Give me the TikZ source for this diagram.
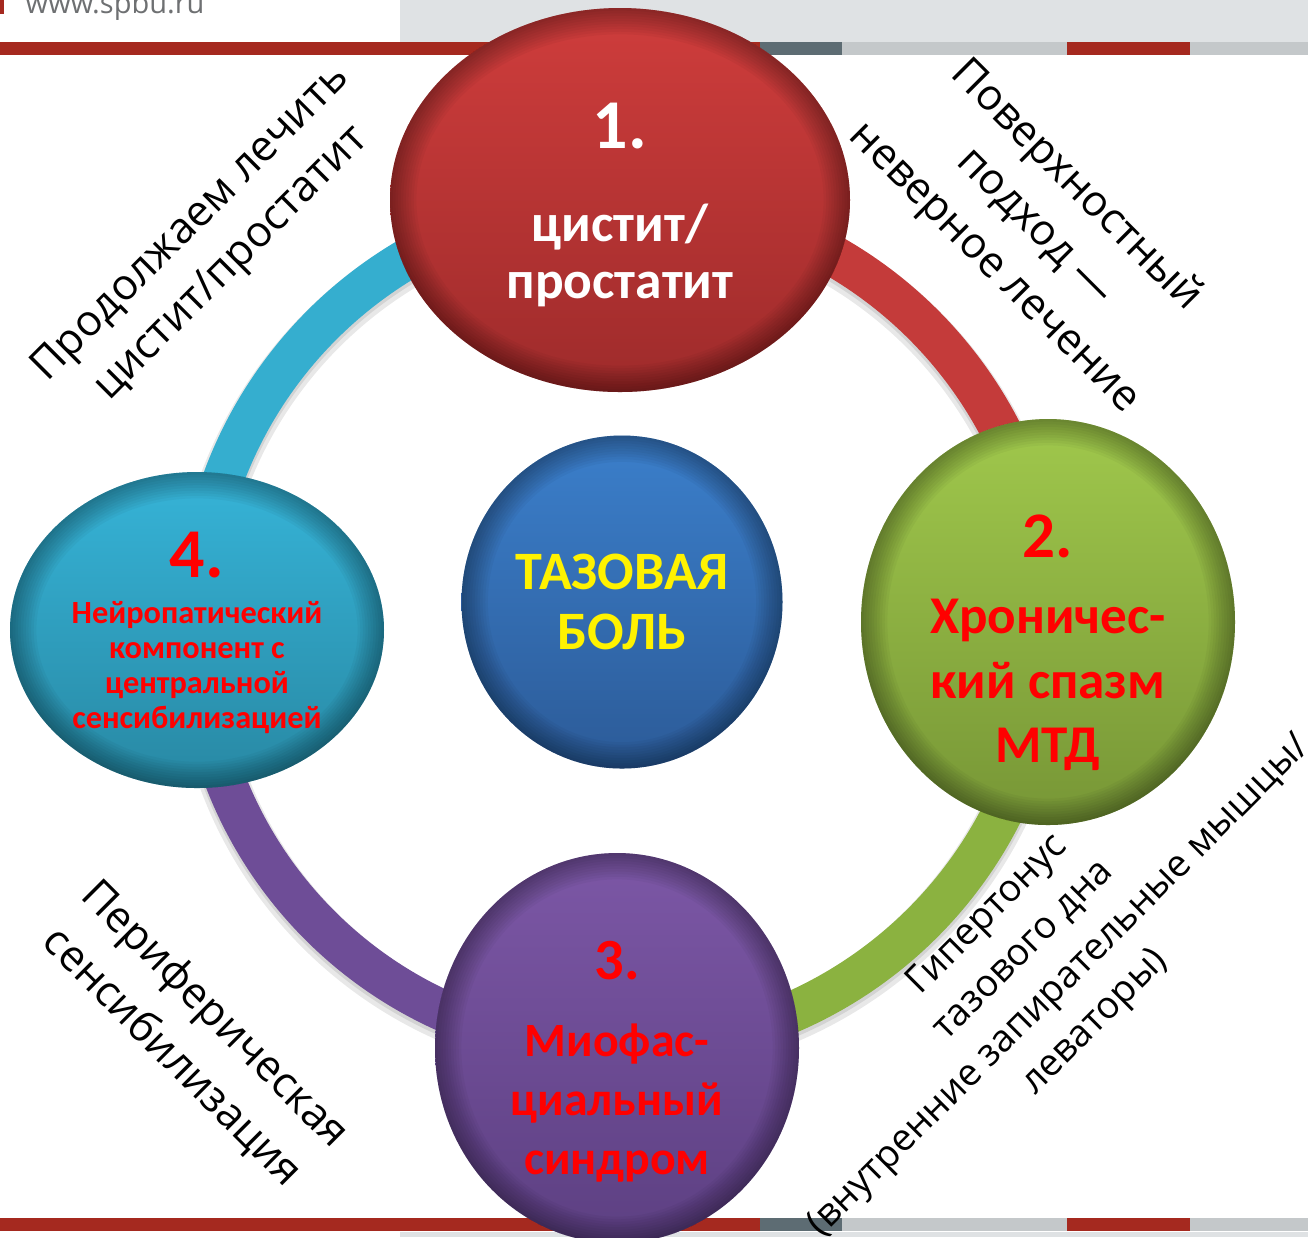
\documentclass[tikz,border=0pt]{standalone}
\usepackage{fontspec}
\newfontfamily\labelfont{Open Sans}
\newfontfamily\discfont{Carlito}
\usetikzlibrary{calc, backgrounds, shapes.geometric}
\definecolor{sbred}{RGB}{165,41,31}
\definecolor{sbslate}{RGB}{93,108,115}
\definecolor{sbgray}{RGB}{196,200,202}
\definecolor{sbhead}{RGB}{223,226,228}
\definecolor{sburl}{RGB}{110,112,114}
\definecolor{ringblue}{RGB}{53,174,207}
\definecolor{ringred}{RGB}{196,59,58}
\definecolor{ringgreen}{RGB}{139,178,64}
\definecolor{ringpurple}{RGB}{110,77,151}
\definecolor{redtop}{RGB}{207,61,60}
\definecolor{redbot}{RGB}{158,43,43}
\definecolor{bluetop}{RGB}{59,127,203}
\definecolor{bluebot}{RGB}{44,91,152}
\definecolor{greentop}{RGB}{160,200,76}
\definecolor{greenbot}{RGB}{119,150,54}
\definecolor{violettop}{RGB}{124,87,166}
\definecolor{violetbot}{RGB}{93,64,130}
\definecolor{cyantop}{RGB}{54,180,216}
\definecolor{cyanbot}{RGB}{40,136,163}
\tikzset{
  bubble/.style 2 args={ellipse, inner sep=0pt, top color=#1, bottom color=#2,
    path picture={
      \foreach \w in {1.5,3,...,15}
        \draw[black, opacity=0.035, line width=\w pt]
          let \p1=(path picture bounding box.north east),
              \p2=(path picture bounding box.center) in
          (\p2) ellipse [x radius=\x1-\x2, y radius=\y1-\y2];
    }},
  ringarc/.style={draw=#1, line width=0.41cm},
  ringshade/.style={draw=black, opacity=0.09, line width=#1},
  bubbletext/.style={align=center, text=#1, inner sep=0pt},
  sidenote/.style={font=\labelfont\fontsize{12.2}{16.2}\selectfont, align=center, text=black},
}

\begin{document}
\begin{tikzpicture}
  \useasboundingbox (0,0) rectangle (13.08,-12.37);

  \node[bubble={redtop}{redbot}, minimum width=4.60cm, minimum height=3.84cm] (c1) at (6.20,-2.00) {};
  \node[bubble={greentop}{greenbot}, minimum width=3.74cm, minimum height=4.06cm] (c2) at (10.48,-6.22) {};
  \node[bubble={violettop}{violetbot}, minimum width=3.64cm, minimum height=3.90cm] (c3) at (6.17,-10.48) {};
  \node[bubble={cyantop}{cyanbot}, minimum width=3.74cm, minimum height=3.16cm] (c4) at (1.97,-6.30) {};
  \node[bubble={bluetop}{bluebot}, minimum width=3.21cm, minimum height=3.33cm] (c0) at (6.22,-6.02) {};

  \node[bubbletext=white, font=\discfont\bfseries\fontsize{15.2}{16.2}\selectfont] (t1) at ([yshift=-0.05cm]c1)
    {{\fontsize{19.9}{20}\selectfont 1.}\\[0.36cm]цистит/\\простатит};
  \node[bubbletext=red, font=\discfont\bfseries\fontsize{15.1}{18.35}\selectfont] (t2) at ([yshift=-0.21cm]c2)
    {{\fontsize{18.5}{20}\selectfont 2.}\\[0.115cm]Хроничес-\\кий спазм\\МТД};
  \node[bubbletext=red, font=\discfont\bfseries\fontsize{13.6}{16.8}\selectfont] (t3) at ([yshift=-0.14cm]c3)
    {{\fontsize{16.6}{18}\selectfont 3.}\\[0.18cm]Миофас-\\циальный\\синдром};
  \node[bubbletext=red, font=\discfont\bfseries\fontsize{9.2}{10}\selectfont] (t4) at ([yshift=-0.03cm]c4)
    {{\fontsize{19.9}{20}\selectfont 4.}\\[0.11cm]Нейропатический\\компонент с\\центральной\\сенсибилизацией};
  \node[bubbletext=yellow, font=\discfont\bfseries\fontsize{15.4}{17.1}\selectfont] (t0) at (c0)
    {ТАЗОВАЯ\\БОЛЬ};

  \node[sidenote, rotate=45] (n41) at (2.12,-2.44) {Продолжаем лечить\\цистит/простатит};
  \node[sidenote, rotate=-45, font=\labelfont\fontsize{12.2}{16.5}\selectfont] (n12) at (10.35,-2.27)
    {Поверхностный\\подход —\\неверное лечение};
  \node[sidenote, rotate=-45, font=\labelfont\fontsize{12.2}{17.2}\selectfont] (n34) at (1.93,-10.36)
    {Периферическая\\сенсибилизация};
  \node[sidenote, rotate=45, font=\labelfont\fontsize{10.7}{14.4}\selectfont] (n23) at (10.42,-9.69)
    {Гипертонус\\тазового дна\\(внутренние запирательные мышцы/\\леваторы)};

  \node[font=\labelfont\fontsize{8.25}{10}\selectfont, text=sburl, anchor=base west, inner sep=0pt] (url)
    at (0.25,-0.13) {www.spbu.ru};

  \begin{scope}[on background layer]
    \fill[sbhead] (4.00,0) rectangle (13.08,-0.42);
    \fill[sbhead] (4.00,-12.32) rectangle (13.08,-12.37);
    \fill[sbred] (0,0) rectangle (0.04,-0.14);
    \foreach \y in {0.42,12.18}{
      \fill[sbred] (0,-\y) rectangle (7.60,-\y-0.13);
      \fill[sbslate] (7.60,-\y) rectangle (8.42,-\y-0.13);
      \fill[sbgray] (8.42,-\y) rectangle (10.67,-\y-0.13);
      \fill[sbred] (10.67,-\y) rectangle (11.90,-\y-0.13);
      \fill[sbgray] (11.90,-\y) rectangle (13.08,-\y-0.13);
    }
    \foreach \a/\b in {c4/c1, c1/c2, c2/c3, c3/c4}{
      \draw[ringshade=0.49cm] ([yshift=-0.05cm]\a.center) to[bend left=45] ([yshift=-0.05cm]\b.center);
      \draw[ringshade=0.43cm] ([yshift=-0.03cm]\a.center) to[bend left=45] ([yshift=-0.03cm]\b.center);
    }
    \foreach \a/\b/\col in {c4/c1/ringblue, c1/c2/ringred, c2/c3/ringgreen, c3/c4/ringpurple}
      \draw[ringarc=\col] (\a.center) to[bend left=45] (\b.center);
  \end{scope}
\end{tikzpicture}
\end{document}
